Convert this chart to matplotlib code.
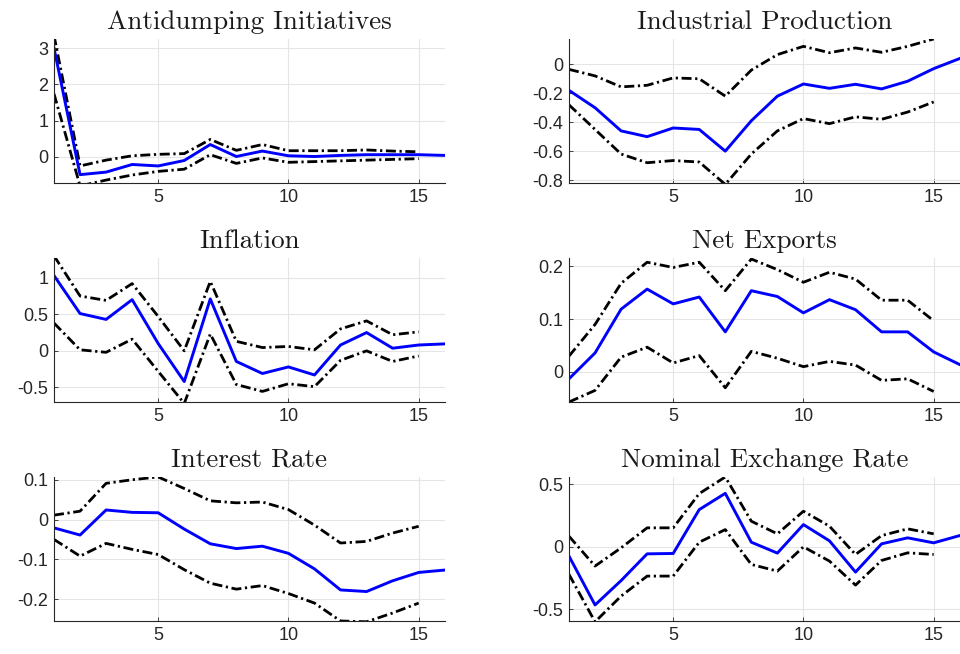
import numpy as np
import matplotlib
matplotlib.use('Agg')
import matplotlib.pyplot as plt

horizon = np.arange(1, 17)
band_h = np.arange(1, 16)

titles = ['Antidumping Initiatives', 'Industrial Production', 'Inflation',
          'Net Exports', 'Interest Rate', 'Nominal Exchange Rate']

# impulse responses (16 periods) and bands (15 periods)
ad_irf = [3.0, -0.49, -0.42, -0.21, -0.25, -0.10, 0.34, 0.01, 0.16, 0.03, 0.01, 0.04, 0.06, 0.06, 0.06, 0.04]
ad_hi = [3.35, -0.25, -0.09, 0.03, 0.07, 0.09, 0.48, 0.18, 0.34, 0.17, 0.17, 0.17, 0.19, 0.16, 0.14]
ad_lo = [1.74, -0.80, -0.64, -0.50, -0.40, -0.34, 0.06, -0.18, -0.03, -0.15, -0.13, -0.11, -0.09, -0.07, -0.05]

ip_irf = [-0.18, -0.30, -0.46, -0.50, -0.44, -0.45, -0.60, -0.39, -0.22, -0.136, -0.166, -0.138, -0.17, -0.117, -0.03, 0.04]
ip_hi = [-0.035, -0.08, -0.156, -0.145, -0.094, -0.10, -0.22, -0.04, 0.067, 0.124, 0.08, 0.113, 0.083, 0.124, 0.175]
ip_lo = [-0.28, -0.45, -0.62, -0.68, -0.665, -0.675, -0.83, -0.62, -0.46, -0.375, -0.41, -0.363, -0.38, -0.33, -0.26]

inf_irf = [1.03, 0.51, 0.43, 0.70, 0.10, -0.42, 0.71, -0.145, -0.31, -0.22, -0.33, 0.08, 0.25, 0.036, 0.08, 0.095]
inf_hi = [1.30, 0.75, 0.69, 0.92, 0.47, 0.0, 0.95, 0.13, 0.045, 0.06, 0.014, 0.30, 0.41, 0.22, 0.26]
inf_lo = [0.38, 0.014, -0.02, 0.16, -0.28, -0.72, 0.23, -0.46, -0.555, -0.45, -0.49, -0.13, 0.0, -0.145, -0.07]

nx_irf = [-0.013, 0.036, 0.119, 0.157, 0.129, 0.142, 0.076, 0.154, 0.143, 0.112, 0.137, 0.118, 0.076, 0.076, 0.038, 0.014]
nx_hi = [0.030, 0.09, 0.168, 0.208, 0.198, 0.208, 0.154, 0.214, 0.194, 0.17, 0.189, 0.176, 0.136, 0.136, 0.097]
nx_lo = [-0.057, -0.035, 0.028, 0.047, 0.017, 0.031, -0.03, 0.039, 0.026, 0.010, 0.020, 0.013, -0.016, -0.013, -0.037]

ir_irf = [-0.021, -0.039, 0.024, 0.018, 0.017, -0.024, -0.061, -0.073, -0.067, -0.085, -0.124, -0.177, -0.181, -0.154, -0.133, -0.127]
ir_hi = [0.011, 0.021, 0.091, 0.10, 0.107, 0.078, 0.047, 0.042, 0.044, 0.025, -0.014, -0.059, -0.055, -0.034, -0.017]
ir_lo = [-0.05, -0.092, -0.06, -0.075, -0.088, -0.126, -0.16, -0.175, -0.166, -0.186, -0.21, -0.255, -0.257, -0.235, -0.21]

er_irf = [-0.074, -0.465, -0.27, -0.056, -0.053, 0.298, 0.428, 0.037, -0.05, 0.178, 0.048, -0.202, 0.024, 0.072, 0.032, 0.09]
er_hi = [0.085, -0.154, -0.008, 0.152, 0.152, 0.426, 0.559, 0.205, 0.104, 0.285, 0.165, -0.061, 0.09, 0.144, 0.104]
er_lo = [-0.22, -0.60, -0.394, -0.234, -0.234, 0.037, 0.138, -0.141, -0.194, 0.0, -0.114, -0.306, -0.109, -0.048, -0.061]

ylims = [(-0.72, 3.25), (-0.82, 0.175), (-0.70, 1.27),
         (-0.057, 0.216), (-0.255, 0.107), (-0.593, 0.559)]
yticks = [[0, 1, 2, 3], [-0.8, -0.6, -0.4, -0.2, 0], [-0.5, 0, 0.5, 1],
          [0, 0.1, 0.2], [-0.2, -0.1, 0, 0.1], [-0.5, 0, 0.5]]
yticklabels = [['0', '1', '2', '3'], ['-0.8', '-0.6', '-0.4', '-0.2', '0'],
               ['-0.5', '0', '0.5', '1'], ['0', '0.1', '0.2'],
               ['-0.2', '-0.1', '0', '0.1'], ['-0.5', '0', '0.5']]

series = [(ad_irf, ad_hi, ad_lo), (ip_irf, ip_hi, ip_lo), (inf_irf, inf_hi, inf_lo),
          (nx_irf, nx_hi, nx_lo), (ir_irf, ir_hi, ir_lo), (er_irf, er_hi, er_lo)]

plt.rcParams['font.family'] = ['Liberation Sans', 'DejaVu Sans']

fig = plt.figure(figsize=(9.6, 6.54), dpi=100)
lefts = [0.05625, 0.5927]
bottoms = [0.7202, 0.3853, 0.0505]
w, h = 0.407, 0.2202
dash = (0, (3.6, 1.3, 0.8, 1.3))
axcol = '#262626'

for i, (irf, hi, lo) in enumerate(series):
    ax = fig.add_axes([lefts[i % 2], bottoms[i // 2], w, h])
    ax.plot(band_h, hi, color='k', lw=2.0, linestyle=dash)
    ax.plot(band_h, lo, color='k', lw=2.0, linestyle=dash)
    ax.plot(horizon, irf, color='#0000ff', lw=2.1)
    ax.set_xlim(1, 16)
    ax.set_ylim(*ylims[i])
    ax.set_xticks([5, 10, 15])
    ax.set_yticks(yticks[i])
    ax.set_yticklabels(yticklabels[i])
    ax.grid(True, color='#e5e5e5', lw=0.8)
    ax.set_axisbelow(True)
    for s in ['top', 'right']:
        ax.spines[s].set_visible(False)
    for s in ['left', 'bottom']:
        ax.spines[s].set_color(axcol)
        ax.spines[s].set_linewidth(0.8)
    ax.tick_params(direction='in', length=3, width=0.6, colors=axcol,
                   labelsize=13, pad=4)
    ax.set_title(titles[i], fontfamily='cmr10', fontsize=19.5, color='#1a1a1a', pad=7.5)

fig.savefig('out.png', dpi=100)
